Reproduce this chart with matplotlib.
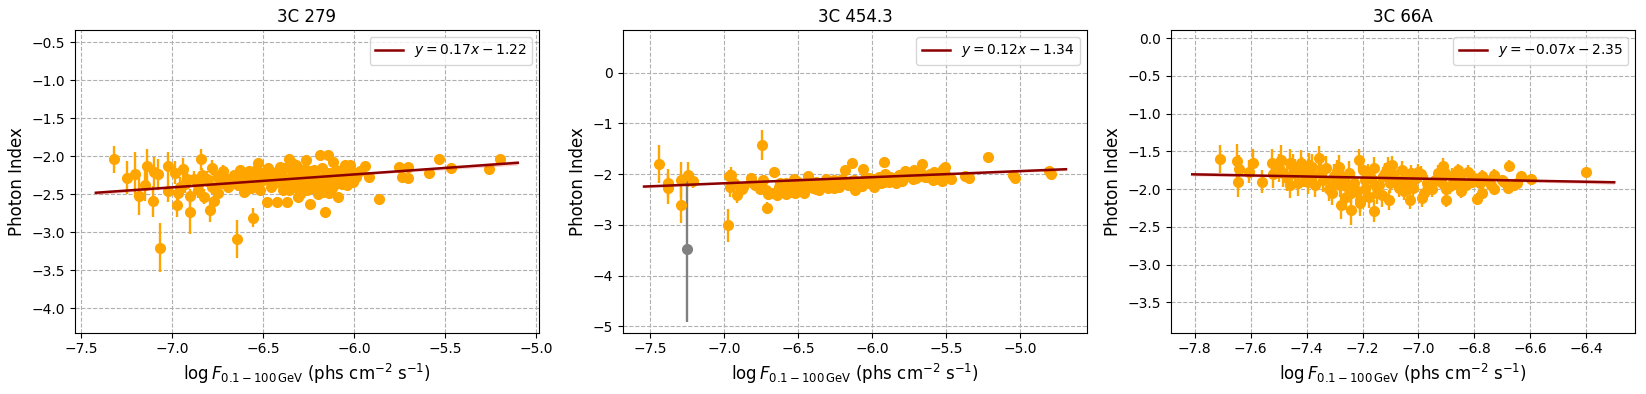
import numpy as np
import matplotlib.pyplot as plt

# 3C 279
x_279 = [-7.321, -7.252, -7.208, -7.186, -7.148, -7.142, -7.108, -7.100, -7.078, -7.066,
         -7.024, -7.024, -6.987, -6.974, -6.971, -6.943, -6.929, -6.905, -6.901, -6.883,
         -6.861, -6.845, -6.838, -6.828, -6.792, -6.783, -6.770, -6.755, -6.752, -6.701,
         -6.692, -6.646, -6.637, -6.628, -6.609, -6.591, -6.564, -6.555, -6.527, -6.518,
         -6.509, -6.482, -6.473, -6.445, -6.427, -6.409, -6.391, -6.372, -6.358, -6.354,
         -6.345, -6.336, -6.308, -6.300, -6.272, -6.263, -6.259, -6.241, -6.226, -6.208,
         -6.190, -6.172, -6.162, -6.153, -6.144, -6.135, -6.117, -6.108, -6.090, -6.071,
         -6.044, -6.026, -6.007, -5.989, -5.943, -5.920, -5.865, -5.755, -5.737, -5.706,
         -5.706, -5.588, -5.536, -5.469, -5.259, -5.201,
         -6.72, -6.68, -6.66, -6.60, -6.58, -6.55, -6.53, -6.50, -6.47, -6.46,
         -6.44, -6.42, -6.40, -6.38, -6.37, -6.33, -6.32, -6.29, -6.27, -6.25,
         -6.23, -6.21, -6.19, -6.18, -6.16, -6.14, -6.12, -6.10, -6.08, -6.06,
         -6.04, -6.02, -6.00, -6.81, -6.78, -6.73, -6.86, -6.92, -6.96, -6.36,
         -6.30, -6.20, -6.14, -6.05,
         -6.62, -6.57, -6.54, -6.49, -6.45, -6.41, -6.39, -6.35, -6.34, -6.31,
         -6.28, -6.24, -6.22, -6.17, -6.13, -6.11, -6.09, -6.07, -6.03, -5.97]
y_279 = [-2.044, -2.281, -2.241, -2.526, -2.373, -2.123, -2.596, -2.206, -2.241, -3.202,
         -2.123, -2.456, -2.219, -2.645, -2.491, -2.175, -2.360, -2.741, -2.526, -2.294,
         -2.360, -2.044, -2.250, -2.535, -2.711, -2.154, -2.592, -2.272, -2.482, -2.294,
         -2.404, -3.092, -2.382, -2.184, -2.469, -2.272, -2.316, -2.807, -2.096, -2.447,
         -2.228, -2.601, -2.162, -2.360, -2.601, -2.140, -2.294, -2.601, -2.031, -2.404,
         -2.096, -2.228, -2.535, -2.316, -2.175, -2.053, -2.447, -2.623, -2.250, -2.360,
         -1.987, -2.469, -2.732, -2.228, -1.987, -2.404, -2.075, -2.316, -2.535, -2.250,
         -2.184, -2.118, -2.338, -2.272, -2.127, -2.272, -2.570, -2.140, -2.272, -2.140,
         -2.281, -2.228, -2.044, -2.162, -2.175, -2.044,
         -2.20, -2.33, -2.25, -2.35, -2.20, -2.28, -2.38, -2.32, -2.25, -2.40,
         -2.28, -2.20, -2.36, -2.15, -2.30, -2.40, -2.12, -2.28, -2.35, -2.20,
         -2.42, -2.28, -2.36, -2.15, -2.30, -2.22, -2.42, -2.18, -2.32, -2.26,
         -2.38, -2.20, -2.30, -2.30, -2.40, -2.35, -2.45, -2.30, -2.40, -2.45,
         -2.50, -2.50, -2.48, -2.12,
         -2.28, -2.42, -2.18, -2.26, -2.34, -2.24, -2.44, -2.34, -2.16, -2.22,
         -2.40, -2.32, -2.18, -2.34, -2.26, -2.38, -2.22, -2.36, -2.28, -2.20]
e_279 = [0.18, 0.22, 0.30, 0.25, 0.22, 0.22, 0.20, 0.20, 0.20, 0.32,
         0.18, 0.15, 0.15, 0.15, 0.12, 0.15, 0.12, 0.28, 0.10, 0.10,
         0.10, 0.14, 0.10, 0.10, 0.15, 0.10, 0.10, 0.08, 0.08, 0.08,
         0.08, 0.25, 0.08, 0.07, 0.07, 0.07, 0.07, 0.12, 0.06, 0.06,
         0.06, 0.06, 0.06, 0.06, 0.06, 0.05, 0.05, 0.05, 0.05, 0.05,
         0.05, 0.05, 0.05, 0.05, 0.05, 0.05, 0.05, 0.05, 0.05, 0.05,
         0.04, 0.04, 0.04, 0.04, 0.04, 0.04, 0.04, 0.04, 0.04, 0.04,
         0.04, 0.04, 0.04, 0.04, 0.04, 0.04, 0.04, 0.03, 0.03, 0.03,
         0.03, 0.03, 0.03, 0.03, 0.03, 0.03,
         0.08, 0.08, 0.07, 0.07, 0.07, 0.06, 0.06, 0.06, 0.06, 0.06,
         0.06, 0.05, 0.05, 0.05, 0.05, 0.05, 0.05, 0.05, 0.05, 0.05,
         0.05, 0.05, 0.04, 0.04, 0.04, 0.04, 0.04, 0.04, 0.04, 0.04,
         0.04, 0.04, 0.04, 0.10, 0.10, 0.08, 0.10, 0.12, 0.12, 0.05,
         0.05, 0.04, 0.04, 0.04,
         0.07, 0.07, 0.06, 0.06, 0.06, 0.05, 0.05, 0.05, 0.05, 0.05,
         0.05, 0.04, 0.04, 0.04, 0.04, 0.04, 0.04, 0.04, 0.04, 0.04]

# 3C 454.3
x_454 = [-7.44, -7.38, -7.375, -7.288, -7.288, -7.24, -7.206, -6.975, -6.96, -6.95,
         -6.91, -6.74, -6.71, -6.66,
         -6.964, -6.874, -6.818, -6.79, -6.739, -6.716, -6.67, -6.626, -6.58, -6.547,
         -6.525, -6.49, -6.457, -6.435, -6.40, -6.378, -6.356, -6.311, -6.288, -6.254,
         -6.22, -6.18, -6.176, -6.137, -6.113, -6.063, -6.052, -6.018, -5.984, -5.917,
         -5.91, -5.883, -5.838, -5.775, -5.725, -5.714, -5.662, -5.624, -5.579, -5.545,
         -5.523, -5.505, -5.466, -5.369, -5.342, -5.214, -5.05, -5.032, -4.806, -4.79,
         -6.60, -6.55, -6.50, -6.45, -6.42, -6.38, -6.34, -6.30, -6.27, -6.24,
         -6.20, -6.16, -6.12, -6.09, -6.05, -6.02, -5.98, -5.95, -5.92, -5.88,
         -5.85, -5.82, -5.79, -5.76, -5.73, -5.70, -5.67, -5.64, -5.61, -5.58,
         -5.55, -6.64, -6.58, -6.52, -6.46, -6.70, -6.76, -6.82, -6.88, -6.93,
         -6.62, -6.56, -6.48, -6.43, -6.36, -6.32, -6.26, -6.21, -6.14, -6.07,
         -6.00, -5.94, -5.86, -5.80, -5.68, -5.59, -5.53, -5.51]
y_454 = [-1.80, -2.18, -2.28, -2.11, -2.61, -2.01, -2.13, -3.01, -2.25, -2.01,
         -2.41, -1.42, -2.66, -1.95,
         -2.04, -2.25, -2.07, -2.22, -2.11, -2.32, -2.38, -2.25, -2.17, -2.35,
         -2.09, -2.25, -2.38, -2.04, -2.28, -2.15, -2.32, -2.09, -2.22, -2.12,
         -2.25, -1.91, -2.17, -1.78, -2.32, -1.90, -2.18, -2.07, -2.25, -1.77,
         -1.99, -2.15, -2.18, -1.94, -2.09, -1.92, -1.79, -2.05, -1.95, -2.09,
         -1.89, -1.86, -2.09, -2.04, -2.07, -1.67, -2.01, -2.07, -1.94, -1.99,
         -2.30, -2.20, -2.15, -2.28, -2.18, -2.30, -2.20, -2.28, -2.18, -2.25,
         -2.10, -2.22, -2.12, -2.20, -2.08, -2.18, -2.10, -2.05, -2.15, -2.06,
         -2.12, -2.02, -2.10, -2.03, -2.00, -2.08, -1.98, -2.06, -2.00, -2.08,
         -2.02, -2.42, -2.40, -2.38, -2.20, -2.40, -2.30, -2.15, -2.30, -2.18,
         -2.18, -2.34, -2.30, -2.12, -2.24, -2.16, -2.28, -2.18, -2.14, -2.24,
         -2.12, -2.18, -2.08, -2.14, -2.04, -2.12, -2.14, -2.00]
e_454 = [0.38, 0.28, 0.30, 0.35, 0.35, 0.25, 0.15, 0.33, 0.20, 0.15,
         0.15, 0.30, 0.12, 0.10,
         0.12, 0.10, 0.10, 0.08, 0.08, 0.08, 0.08, 0.07, 0.07, 0.07,
         0.06, 0.06, 0.06, 0.06, 0.05, 0.05, 0.05, 0.05, 0.05, 0.04,
         0.04, 0.04, 0.04, 0.04, 0.04, 0.03, 0.03, 0.03, 0.03, 0.03,
         0.03, 0.03, 0.03, 0.03, 0.03, 0.03, 0.03, 0.03, 0.02, 0.02,
         0.02, 0.02, 0.02, 0.02, 0.02, 0.02, 0.02, 0.02, 0.02, 0.02,
         0.07, 0.06, 0.06, 0.06, 0.05, 0.05, 0.05, 0.05, 0.04, 0.04,
         0.04, 0.04, 0.04, 0.04, 0.03, 0.03, 0.03, 0.03, 0.03, 0.03,
         0.03, 0.03, 0.03, 0.03, 0.03, 0.03, 0.02, 0.02, 0.02, 0.02,
         0.02, 0.07, 0.07, 0.06, 0.06, 0.08, 0.08, 0.10, 0.10, 0.10,
         0.07, 0.06, 0.06, 0.05, 0.05, 0.05, 0.04, 0.04, 0.04, 0.03,
         0.03, 0.03, 0.03, 0.03, 0.02, 0.02, 0.02, 0.02]
x_454_gray = [-7.247]
y_454_gray = [-3.47]
e_454_gray = [1.45]

# 3C 66A
x_66a = [-7.709, -7.648, -7.642, -7.645, -7.607, -7.592, -7.559, -7.525, -7.493, -7.483,
         -7.458, -7.44, -7.417, -7.396, -7.38, -7.357, -7.341, -7.303, -7.285, -7.276,
         -7.259, -7.24, -7.24, -7.212, -7.208, -7.19, -7.177, -7.16, -7.151, -7.126,
         -7.107, -7.094, -7.076, -7.05, -7.031, -7.025, -7.00, -6.987, -6.961, -6.942,
         -6.913, -6.904, -6.90, -6.888, -6.86, -6.848, -6.822, -6.81, -6.79, -6.774,
         -6.771, -6.73, -6.73, -6.693, -6.68, -6.676, -6.647, -6.634, -6.597, -6.40,
         -7.50, -7.47, -7.45, -7.43, -7.41, -7.39, -7.37, -7.35, -7.33, -7.32,
         -7.30, -7.29, -7.27, -7.26, -7.25, -7.23, -7.22, -7.20, -7.19, -7.17,
         -7.16, -7.14, -7.13, -7.12, -7.10, -7.09, -7.07, -7.06, -7.04, -7.02,
         -7.01, -6.99, -6.97, -6.95, -6.93, -6.92, -6.88, -6.87, -6.85, -6.83,
         -6.80, -6.78, -6.76, -7.52, -7.46, -7.42, -7.38, -7.31, -7.28, -7.21,
         -7.18, -7.15, -7.11, -7.05, -6.98, -6.90, -6.86, -6.74, -6.70, -6.66]
y_66a = [-1.60, -1.63, -1.73, -1.91, -1.77, -1.65, -1.90, -1.65, -1.61, -1.79,
         -1.65, -1.77, -1.74, -1.90, -1.70, -1.59, -1.88, -1.83, -1.70, -2.21,
         -1.96, -2.27, -2.05, -1.61, -2.18, -1.88, -2.10, -2.29, -1.96, -1.83,
         -2.14, -1.68, -1.88, -2.03, -2.14, -1.79, -1.77, -2.12, -1.96, -1.88,
         -1.69, -1.79, -2.15, -1.96, -1.83, -2.03, -1.77, -1.90, -2.13, -1.83,
         -2.05, -1.81, -2.00, -1.90, -1.99, -1.69, -1.92, -1.83, -1.86, -1.77,
         -1.72, -1.85, -1.70, -1.92, -1.80, -1.68, -1.95, -1.78, -1.72, -2.00,
         -1.90, -1.76, -1.85, -2.10, -1.78, -1.92, -2.02, -1.75, -2.00, -1.85,
         -1.72, -1.95, -2.08, -1.78, -1.92, -1.80, -1.98, -1.75, -1.90, -1.98,
         -1.85, -1.80, -1.92, -2.00, -1.78, -1.90, -1.82, -1.92, -1.85, -1.95,
         -1.85, -1.92, -1.88, -1.80, -1.95, -1.65, -1.82, -2.05, -1.95, -2.15,
         -1.80, -2.05, -1.70, -1.88, -2.05, -2.00, -1.75, -1.95, -1.88, -1.95]
e_66a = [0.18, 0.23, 0.18, 0.20, 0.15, 0.18, 0.15, 0.18, 0.20, 0.18,
         0.18, 0.17, 0.17, 0.17, 0.16, 0.16, 0.16, 0.16, 0.15, 0.18,
         0.15, 0.20, 0.15, 0.14, 0.18, 0.14, 0.15, 0.15, 0.14, 0.13,
         0.13, 0.12, 0.12, 0.12, 0.12, 0.11, 0.11, 0.11, 0.10, 0.10,
         0.10, 0.10, 0.08, 0.10, 0.09, 0.09, 0.09, 0.09, 0.08, 0.08,
         0.08, 0.08, 0.08, 0.07, 0.07, 0.07, 0.06, 0.06, 0.06, 0.04,
         0.18, 0.18, 0.17, 0.17, 0.17, 0.16, 0.16, 0.16, 0.16, 0.16,
         0.15, 0.15, 0.15, 0.18, 0.15, 0.15, 0.18, 0.14, 0.16, 0.14,
         0.14, 0.14, 0.15, 0.13, 0.13, 0.13, 0.12, 0.12, 0.12, 0.12,
         0.11, 0.11, 0.11, 0.10, 0.10, 0.10, 0.10, 0.09, 0.09, 0.09,
         0.09, 0.08, 0.08, 0.18, 0.17, 0.17, 0.16, 0.16, 0.15, 0.15,
         0.14, 0.14, 0.13, 0.12, 0.11, 0.10, 0.09, 0.08, 0.07, 0.07]

titles = ['3C 279', '3C 454.3', '3C 66A']
slopes = [0.17, 0.12, -0.07]
intercepts = [-1.22, -1.34, -2.35]
fit_labels = [r'$y = 0.17x - 1.22$', r'$y = 0.12x - 1.34$', r'$y = -0.07x - 2.35$']
y_limits = [(-4.32, -0.34), (-5.125, 0.845), (-3.90, 0.11)]
xticks = [np.arange(-7.5, -4.9, 0.5), np.arange(-7.5, -4.9, 0.5), np.arange(-7.8, -6.3, 0.2)]

panels = [(x_279, y_279, e_279), (x_454, y_454, e_454), (x_66a, y_66a, e_66a)]

fig, axes = plt.subplots(1, 3, figsize=(16.46, 3.94), dpi=100)
fig.subplots_adjust(left=0.0454, right=0.9935, bottom=0.156, top=0.924, wspace=0.181)

for i, ax in enumerate(axes):
    xs, ys, es = (np.array(v) for v in panels[i])
    ax.errorbar(xs, ys, yerr=es, fmt='o', color='orange', ms=7, elinewidth=1.7, zorder=2)
    if i == 1:
        ax.errorbar(x_454_gray, y_454_gray, yerr=e_454_gray, fmt='o', color='gray',
                    ms=7, elinewidth=1.7, zorder=2)

    # fit line with a narrow confidence band
    xl = np.linspace(xs.min() - 0.1, xs.max() + 0.1, 100)
    yl = slopes[i] * xl + intercepts[i]
    resid = ys - (slopes[i] * xs + intercepts[i])
    s = np.sqrt(np.sum(resid ** 2) / (len(xs) - 2))
    band = 0.6 * s * np.sqrt(1 / len(xs) + (xl - xs.mean()) ** 2 / np.sum((xs - xs.mean()) ** 2))
    ax.fill_between(xl, yl - band, yl + band, color='red', alpha=0.2, lw=0, zorder=3)
    ax.plot(xl, yl, color='darkred', lw=1.8, label=fit_labels[i], zorder=4)

    ax.set_ylim(*y_limits[i])
    ax.set_xticks(xticks[i])
    ax.margins(x=0.05)
    ax.grid(True, linestyle='--', color='#b0b0b0')
    ax.set_axisbelow(True)
    ax.set_title(titles[i], fontsize=12)
    ax.set_xlabel(r'$\log F_{0.1-100\,\mathrm{GeV}}$ (phs cm$^{-2}$ s$^{-1}$)', fontsize=12)
    ax.set_ylabel('Photon Index', fontsize=12)
    ax.legend(loc='upper right')

plt.savefig('out.png')
